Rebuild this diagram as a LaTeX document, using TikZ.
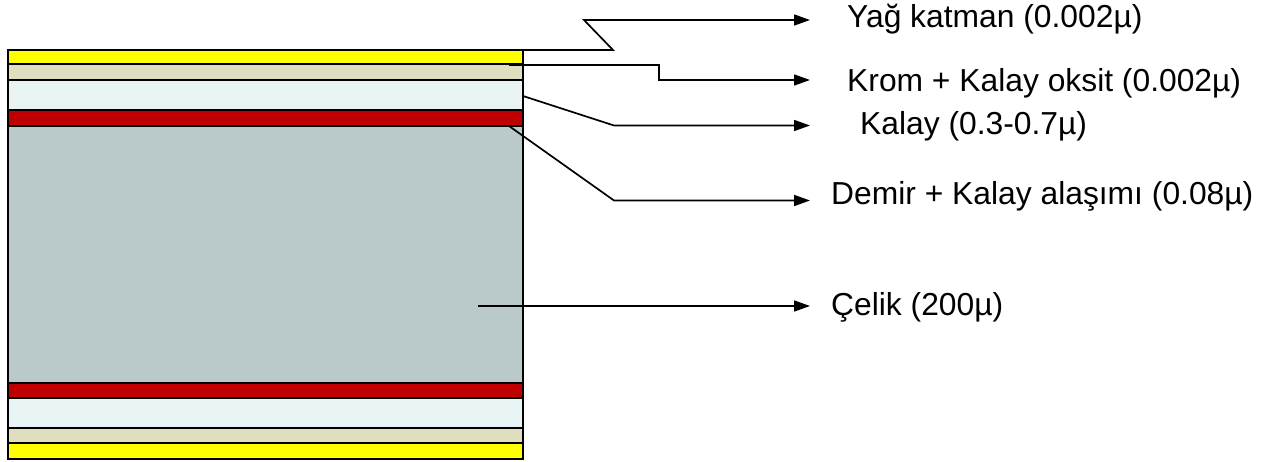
\documentclass[tikz,border=0pt]{standalone}
\usepackage{fontspec}
\setmainfont{Liberation Sans}
\usetikzlibrary{arrows.meta}
\definecolor{oil}{HTML}{FFFF00}
\definecolor{oxide}{HTML}{DFDFC0}
\definecolor{tin}{HTML}{E8F4F4}
\definecolor{alloy}{HTML}{C00000}
\definecolor{steel}{HTML}{BACACA}
\tikzset{
  layer/.style={draw=black, line width=1.5pt},
  leader/.style={draw=black, line width=1.7pt, -{Triangle[length=16pt,width=11pt]}},
  lab/.style={anchor=base west, inner sep=0pt, font=\fontsize{31.8}{38}\selectfont}
}
\begin{document}
\begin{tikzpicture}[x=1pt,y=-1pt]
\useasboundingbox (0,0) rectangle (1263,462);
% layers
\path[layer, fill=steel] (8,126) rectangle (523,383);
\path[layer, fill=oil]   (8,50)  rectangle (523,64);
\path[layer, fill=oxide] (8,64)  rectangle (523,80);
\path[layer, fill=tin]   (8,80)  rectangle (523,110);
\path[layer, fill=alloy] (8,110) rectangle (523,126);
\path[layer, fill=alloy] (8,383) rectangle (523,398);
\path[layer, fill=tin]   (8,398) rectangle (523,428);
\path[layer, fill=oxide] (8,428) rectangle (523,443);
\path[layer, fill=oil]   (8,443) rectangle (523,459);
% labels
\node[lab] (yag)   at (847,28)  {Yağ katman (0.002µ)};
\node[lab] (krom)  at (847,91.5) {Krom + Kalay oksit (0.002µ)};
\node[lab] (kalay) at (860,135) {Kalay (0.3-0.7µ)};
\node[lab] (demir) at (831,205) {Demir + Kalay alaşımı (0.08µ)};
\node[lab] (celik) at (831,316) {Çelik (200µ)};
% connector start points and arrow ends
\coordinate (s1) at (523,50);
\coordinate (s2) at (509,65);
\coordinate (s3) at (523,96);
\coordinate (s4) at (509,126);
\coordinate (s5) at (478,306);
\coordinate (e1) at (810,20);
\coordinate (e2) at (810,80);
\coordinate (e3) at (810,125.5);
\coordinate (e4) at (810,200.5);
\coordinate (e5) at (810,306);
% connectors
\draw[leader] (s1) -- (613,50) -- (584,20) -- (e1);
\draw[leader] (s2) -- (659,65) -- (659,80) -- (e2);
\draw[leader] (s3) -- (614,125.5) -- (e3);
\draw[leader] (s4) -- (614,200.5) -- (e4);
\draw[leader] (s5) -- (e5);
\end{tikzpicture}
\end{document}
